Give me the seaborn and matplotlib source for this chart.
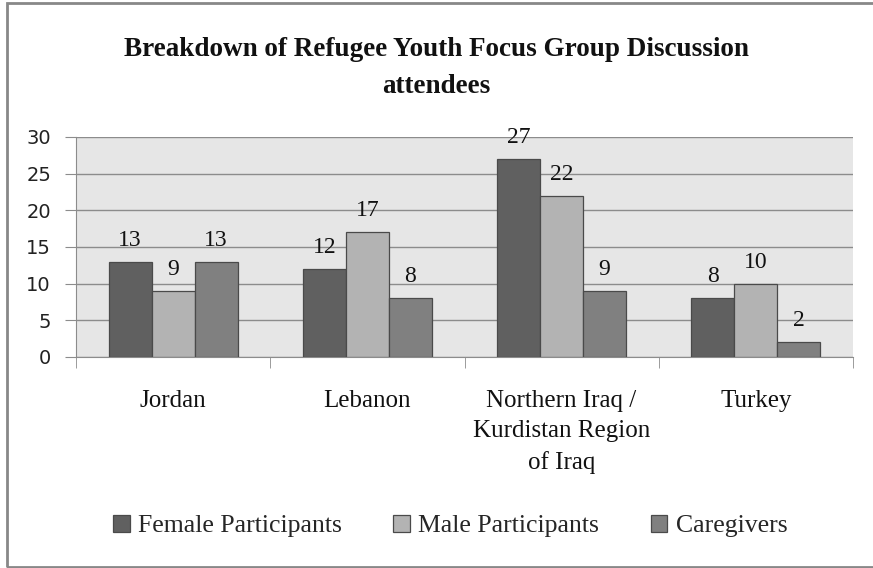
import matplotlib
matplotlib.use("Agg")
import matplotlib.pyplot as plt
import seaborn as sns
import pandas as pd
from matplotlib.patches import Rectangle

categories = ["Jordan", "Lebanon", "Northern Iraq /\nKurdistan Region\nof Iraq", "Turkey"]
series = ["Female Participants", "Male Participants", "Caregivers"]
female = [13, 12, 27, 8]
male = [9, 17, 22, 10]
caregivers = [13, 8, 9, 2]
yticks = [0, 5, 10, 15, 20, 25, 30]
title = "Breakdown of Refugee Youth Focus Group Discussion\nattendees"

df = pd.DataFrame({
    "category": categories * 3,
    "series": [series[0]] * 4 + [series[1]] * 4 + [series[2]] * 4,
    "value": female + male + caregivers,
})

colors = ["#606060", "#b3b3b3", "#808080"]
serif = ["Liberation Serif", "DejaVu Serif"]

sns.set_style("white")
fig = plt.figure(figsize=(8.73, 5.68), dpi=100)
ax = fig.add_axes([76/873, 1-357/568, (853-76)/873, (357-137)/568])

sns.barplot(data=df, x="category", y="value", hue="series", palette=colors,
            width=0.663, ax=ax, edgecolor="#4a4a4a", linewidth=0.9, saturation=1,
            legend=False, zorder=3)

ax.set_facecolor("#e6e6e6")
ax.set_ylim(0, 30)
ax.set_xlim(-0.5, 3.5)
ax.set_yticks(yticks)
ax.set_yticklabels([str(t) for t in yticks], fontsize=14, family=["DejaVu Sans"], color="#222222")
ax.grid(axis="y", color="#8c8c8c", linewidth=1.0, zorder=0)
ax.set_axisbelow(True)
for s in ["top", "right"]:
    ax.spines[s].set_visible(False)
ax.spines["left"].set_color("#8c8c8c")
ax.spines["bottom"].set_color("#8c8c8c")
ax.tick_params(axis="y", length=8, color="#8c8c8c", direction="out", pad=10, left=True)
ax.set_xticks([])
ax.set_xlabel("")
ax.set_ylabel("")

# category separators on x-axis
ax.set_xticks([-0.5, 0.5, 1.5, 2.5, 3.5], minor=True)
ax.tick_params(axis="x", which="minor", length=8, color="#8c8c8c", direction="out", bottom=True)

for i, c in enumerate(categories):
    ax.text(i, -0.15, c, transform=ax.get_xaxis_transform(), ha="center", va="top",
            fontsize=18, family=serif, color="#111111", linespacing=1.5)

for cont in ax.containers:
    ax.bar_label(cont, padding=8, fontsize=17, family=serif, color="#111111")

fig.text(0.5, 1-68/568, title, ha="center", va="center", fontsize=19.5, fontweight="bold",
         family=serif, color="#111111", linespacing=1.6)

handles = [Rectangle((0, 0), 1, 1, facecolor=c, edgecolor="#4a4a4a", linewidth=0.9) for c in colors]
fig.legend(handles, series, loc="center", bbox_to_anchor=(450/873, 1-526/568), ncol=3, frameon=False,
           prop={"family": serif, "size": 18.5}, handlelength=0.66, handleheight=0.66,
           handletextpad=0.32, columnspacing=2.0)

border = Rectangle((7/873, 1/568), 1, 1-4/568, transform=fig.transFigure, fill=False,
                   edgecolor="#888888", linewidth=2.0)
fig.patches.append(border)

fig.savefig("out.png", dpi=100, facecolor="white")
